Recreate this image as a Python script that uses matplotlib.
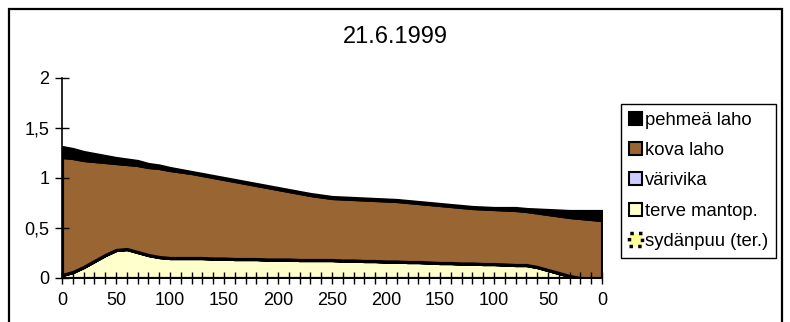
import numpy as np
import matplotlib.pyplot as plt
from matplotlib.patches import Patch, Rectangle

plt.rcParams['font.family'] = ['Liberation Sans', 'DejaVu Sans']

# distance labels along the stem: up to 250 and back down to 0, every 10
positions = [0, 10, 20, 30, 40, 50, 60, 70, 80, 90, 100, 110, 120, 130, 140, 150,
             160, 170, 180, 190, 200, 210, 220, 230, 240, 250,
             240, 230, 220, 210, 200, 190, 180, 170, 160, 150, 140, 130, 120, 110,
             100, 90, 80, 70, 60, 50, 40, 30, 20, 10, 0]

sydanpuu = [0.0] * 51
terve = [0.03, 0.06, 0.11, 0.17, 0.23, 0.28, 0.29, 0.26, 0.23, 0.21, 0.20,
         0.20, 0.20, 0.20, 0.195, 0.195, 0.19, 0.19, 0.19, 0.185, 0.185,
         0.185, 0.18, 0.18, 0.18, 0.18,
         0.175, 0.175, 0.17, 0.17, 0.165, 0.165, 0.16, 0.16, 0.155, 0.15,
         0.15, 0.145, 0.145, 0.14, 0.14, 0.135, 0.13, 0.13, 0.11, 0.08,
         0.05, 0.02, 0.0, 0.0, 0.0]
varivika = [0.0] * 51
# top of the hard rot band
kova_top = [1.21, 1.20, 1.18, 1.17, 1.16, 1.15, 1.14, 1.13, 1.11, 1.10, 1.08,
            1.065, 1.05, 1.03, 1.01, 0.99, 0.97, 0.95, 0.93, 0.91, 0.89,
            0.87, 0.85, 0.83, 0.815, 0.80,
            0.795, 0.79, 0.785, 0.78, 0.775, 0.77, 0.76, 0.75, 0.74, 0.73,
            0.72, 0.71, 0.70, 0.695, 0.69, 0.685, 0.68, 0.67, 0.655, 0.64,
            0.625, 0.61, 0.60, 0.59, 0.58]
kova = [round(k - t, 3) for k, t in zip(kova_top, terve)]
pehmea = [0.10, 0.09, 0.08, 0.07, 0.06, 0.05, 0.045, 0.04, 0.03, 0.025, 0.02,
          0.015, 0.01, 0.01, 0.01, 0.01, 0.01, 0.01, 0.01, 0.01, 0.01,
          0.01, 0.01, 0.01, 0.01, 0.01,
          0.01, 0.01, 0.01, 0.01, 0.01, 0.01, 0.01, 0.01, 0.01, 0.01,
          0.01, 0.01, 0.01, 0.01, 0.01, 0.015, 0.02, 0.02, 0.03, 0.04,
          0.05, 0.06, 0.07, 0.08, 0.09]

names = ['pehmeä laho', 'kova laho', 'värivika', 'terve mantop.', 'sydänpuu (ter.)']
colors = ['black', '#996633', '#CCCCFF', '#FFFFCC', '#FFFF99']

W, H = 790, 322
fig = plt.figure(figsize=(W / 100, H / 100), dpi=100)
ax = fig.add_axes([62 / W, 44 / H, 540 / W, 200 / H])

x = np.arange(len(positions))
ax.stackplot(x, sydanpuu, terve, varivika, kova, pehmea,
             colors=[colors[4], colors[3], colors[2], colors[1], colors[0]],
             edgecolor='black', linewidth=2.3)

ax.set_xlim(0, len(positions) - 1)
ax.set_ylim(0, 2)
ax.set_xticks(x)
ax.set_xticklabels([str(p) if i % 5 == 0 else '' for i, p in enumerate(positions)])
ax.set_yticks([0, 0.5, 1, 1.5, 2])
ax.set_yticklabels(['0', '0,5', '1', '1,5', '2'])
ax.tick_params(axis='x', direction='inout', length=8, width=1, labelsize=13, pad=6)
ax.tick_params(axis='y', direction='inout', length=10, width=1, labelsize=13, pad=4)
for s in ['top', 'right']:
    ax.spines[s].set_visible(False)
for s in ['left', 'bottom']:
    ax.spines[s].set_linewidth(1.2)
    ax.spines[s].set_zorder(5)

fig.text(395 / W, 1 - 37 / H, '21.6.1999', ha='center', va='center', fontsize=17)

handles = [Patch(facecolor=c, edgecolor='black', linewidth=1.5) for c in colors[:4]]
handles.append(Patch(facecolor=colors[4], edgecolor='black', linewidth=2.5,
                     linestyle=(0, (1, 1.5))))
leg = fig.legend(handles, names, loc='upper left',
                 bbox_to_anchor=(621 / W, 1 - 104 / H), fontsize=13.3,
                 fancybox=False, edgecolor='black', framealpha=1,
                 handlelength=0.7, handleheight=0.7, handletextpad=0.2,
                 labelspacing=0.72, borderpad=0.42, borderaxespad=0)
leg.get_frame().set_linewidth(1)

# outer chart frame
fig.add_artist(Rectangle((9 / W, -0.05), 773 / W, 1.05 - 9 / H,
                         transform=fig.transFigure, fill=False,
                         edgecolor='black', linewidth=1.6))

fig.savefig('out.png', dpi=100)
